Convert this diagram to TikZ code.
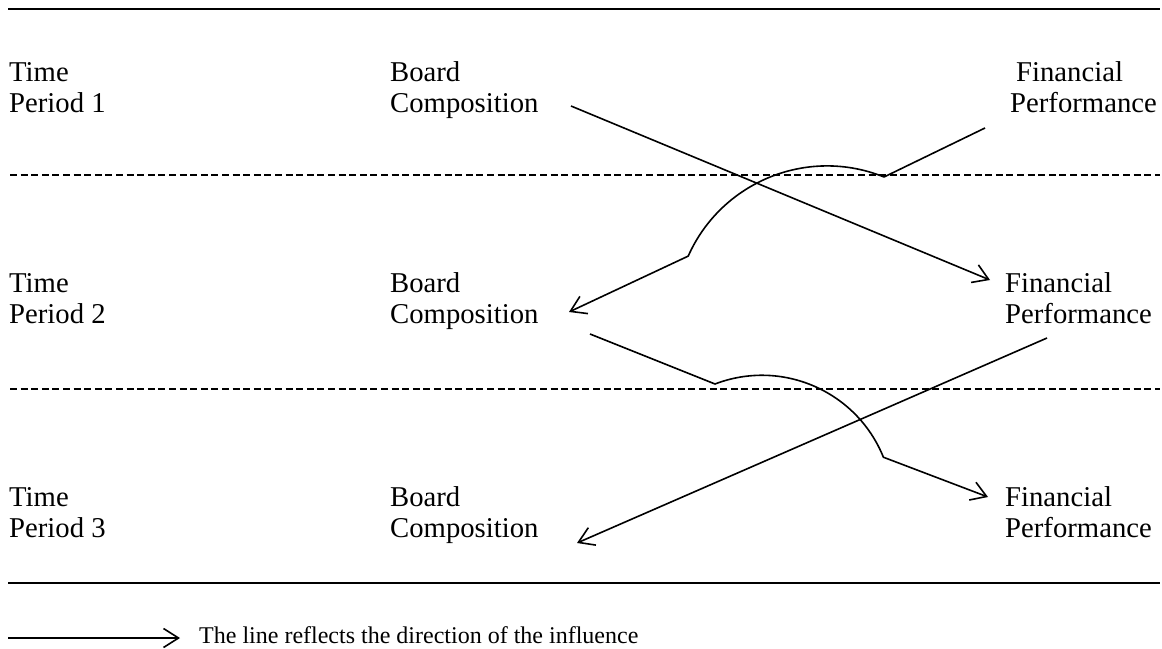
\documentclass[tikz,border=0pt]{standalone}
\usepackage{fontspec}
\setmainfont{Liberation Serif}
\usetikzlibrary{arrows.meta}
\begin{document}
\begin{tikzpicture}[x=1pt,y=-1pt,
  lbl/.style={anchor=base west,inner sep=0pt,align=left,font=\fontsize{28.7}{31}\selectfont},
  rule/.style={line width=2pt},
  sep/.style={line width=2.2pt,dash pattern=on 7pt off 3.6pt},
  conn/.style={line width=1.6pt,line join=round},
  tip/.style={-{Straight Barb[length=15pt,width=19pt,line width=1.6pt]}}]
\useasboundingbox (0,0) rectangle (1162,648);
% horizontal rules
\draw[rule] (8,9) -- (1160,9);
\draw[rule] (8,583) -- (1160,583);
\draw[sep] (10,175) -- (1160,175);
\draw[sep] (10,389) -- (1160,389);
% labels (anchor = baseline of the second line)
\node[lbl] (t1) at (9,112) {Time\\Period 1};
\node[lbl] (b1) at (390,112) {Board\\Composition};
\node[lbl] (f1) at (1010,112) {\hspace{6pt}Financial\\Performance};
\node[lbl] (t2) at (9,323) {Time\\Period 2};
\node[lbl] (b2) at (390,323) {Board\\Composition};
\node[lbl] (f2) at (1005,323) {Financial\\Performance};
\node[lbl] (t3) at (9,537) {Time\\Period 3};
\node[lbl] (b3) at (390,537) {Board\\Composition};
\node[lbl] (f3) at (1005,537) {Financial\\Performance};
% connector end points
\coordinate (b1out) at (571,106);
\coordinate (f2in) at (990,280);
\coordinate (f1out) at (985,128);
\coordinate (k1) at (884,177);
\coordinate (b2in) at (569,312);
\coordinate (b2out) at (590,334);
\coordinate (k2) at (715,384);
\coordinate (f3in) at (988,497);
\coordinate (f2out) at (1047,338);
\coordinate (b3in) at (577,543);
% connectors
\draw[conn,tip] (b1out) -- (f2in);
\draw[conn,tip] (f1out) -- (k1) arc[start angle=-68,end angle=-156,radius=152] -- (b2in);
\draw[conn,tip] (b2out) -- (k2) arc[start angle=-111,end angle=-22,radius=131] -- (f3in);
\draw[conn,tip] (f2out) -- (b3in);
% legend
\coordinate (lg0) at (8,638);
\coordinate (lg1) at (180,638);
\draw[conn,tip] (lg0) -- (lg1);
\node[anchor=base west,inner sep=0pt,font=\fontsize{24}{27}\selectfont] (legend) at (199,643) {The line reflects the direction of the influence};
\end{tikzpicture}
\end{document}
